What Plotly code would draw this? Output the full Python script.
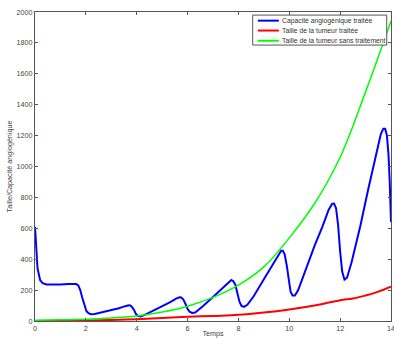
import plotly.graph_objects as go

# Blue: capacité angiogénique traitée
t_blue = [0, 0.05, 0.1, 0.2, 0.3, 0.45, 0.7, 1.0, 1.3, 1.5, 1.62, 1.7, 1.78, 1.86, 1.94, 2.02, 2.1, 2.2, 2.35,
          2.7, 3.0, 3.3, 3.55, 3.68, 3.75, 3.82, 3.9, 3.97, 4.05, 4.15, 4.3, 4.6, 5.0, 5.3, 5.55, 5.68, 5.75,
          5.83, 5.92, 6.0, 6.08, 6.18, 6.3, 6.6, 7.0, 7.35, 7.6, 7.72, 7.8, 7.88, 7.96, 8.04, 8.12, 8.22, 8.35,
          8.6, 9.0, 9.3, 9.55, 9.68, 9.75, 9.82, 9.9, 9.98, 10.05, 10.13, 10.22, 10.35, 10.7, 11.0, 11.3, 11.55,
          11.68, 11.76, 11.84, 11.92, 12.0, 12.08, 12.17, 12.27, 12.45, 12.8, 13.1, 13.4, 13.6, 13.7, 13.77,
          13.84, 13.9, 13.95, 14.0]
v_blue = [610, 450, 340, 265, 245, 236, 234, 236, 240, 242, 240, 230, 200, 150, 100, 65, 50, 44, 45,
          58, 70, 83, 96, 102, 100, 90, 70, 45, 32, 30, 38, 62, 95, 120, 145, 154, 152,
          140, 110, 78, 60, 52, 55, 95, 155, 210, 250, 265, 258, 235, 180, 125, 98, 92, 105,
          160, 270, 350, 425, 455, 455, 430, 360, 260, 190, 165, 165, 200, 360, 490, 610, 720,
          758, 760, 730, 620, 450, 320, 268, 280, 380, 620, 850, 1070, 1210, 1245, 1245,
          1200, 1080, 900, 640]

# Red: taille de la tumeur traitée
t_red = [0, 1, 2, 3, 4, 5, 6, 7, 8, 9, 10, 11, 12, 12.5, 13, 13.5, 14]
v_red = [0, 1, 3, 7, 12, 19, 27, 33, 40, 55, 75, 100, 135, 145, 165, 190, 222]

# Green: taille de la tumeur sans traitement
t_green = [0, 1, 2, 3, 4, 5, 6, 7, 8, 9, 10, 11, 12, 13, 14]
v_green = [5, 8, 12, 20, 32, 58, 96, 153, 232, 350, 538, 762, 1060, 1483, 1940]

series_names = ["Capacité angiogénique traitée", "Taille de la tumeur traitée",
                "Taille de la tumeur sans traitement"]
series_colors = ["#0000FF", "#FF0000", "#00FF00"]

x_ticks = [0, 2, 4, 6, 8, 10, 12, 14]
y_ticks = [0, 200, 400, 600, 800, 1000, 1200, 1400, 1600, 1800, 2000]

fig = go.Figure()
fig.add_trace(go.Scatter(x=t_blue, y=v_blue, mode="lines", name=series_names[0],
                         line=dict(color=series_colors[0], width=2)))
fig.add_trace(go.Scatter(x=t_red, y=v_red, mode="lines", name=series_names[1],
                         line=dict(color=series_colors[1], width=2, shape="spline")))
fig.add_trace(go.Scatter(x=t_green, y=v_green, mode="lines", name=series_names[2],
                         line=dict(color=series_colors[2], width=1.5, shape="spline")))

axis_common = dict(showgrid=False, zeroline=False, showline=True, linecolor="#555555", linewidth=1,
                   mirror="ticks", ticks="inside", ticklen=3, tickcolor="#555555",
                   ticklabeloverflow="allow", automargin=False,
                   tickfont=dict(size=7.2, color="#444444", family="Liberation Sans"))

# compact legend (drawn in paper coordinates)
shapes = [dict(type="rect", xref="paper", yref="paper", x0=0.6115, x1=0.988, y0=0.893, y1=0.990,
               line=dict(color="#555555", width=1), fillcolor="white", layer="above")]
annotations = []
row_y = [0.972, 0.940, 0.907]
for name, color, yy in zip(series_names, series_colors, row_y):
    shapes.append(dict(type="line", xref="paper", yref="paper", x0=0.626, x1=0.685, y0=yy, y1=yy,
                       line=dict(color=color, width=2), layer="above"))
    annotations.append(dict(xref="paper", yref="paper", x=0.688, y=yy, text=name, showarrow=False,
                            xanchor="left", yanchor="middle",
                            font=dict(size=6.8, color="#333333", family="Liberation Sans")))

fig.update_layout(
    width=394, height=338,
    margin=dict(l=35, r=3, t=12, b=17),
    paper_bgcolor="white", plot_bgcolor="white",
    font=dict(family="Liberation Sans", size=7.2, color="#444444"),
    xaxis=dict(range=[0, 14], tickvals=x_ticks, title=dict(text="Temps", standoff=4,
               font=dict(size=7.2, color="#444444")), **axis_common),
    yaxis=dict(range=[0, 2000], tickvals=y_ticks, title=dict(text="Taille/Capacité angiogénique", standoff=3,
               font=dict(size=7.2, color="#444444")), **axis_common),
    shapes=shapes,
    annotations=annotations,
    showlegend=False,
)

fig.write_html("out.html", config={"displayModeBar": False},
               post_script="document.body.style.margin='0';")
